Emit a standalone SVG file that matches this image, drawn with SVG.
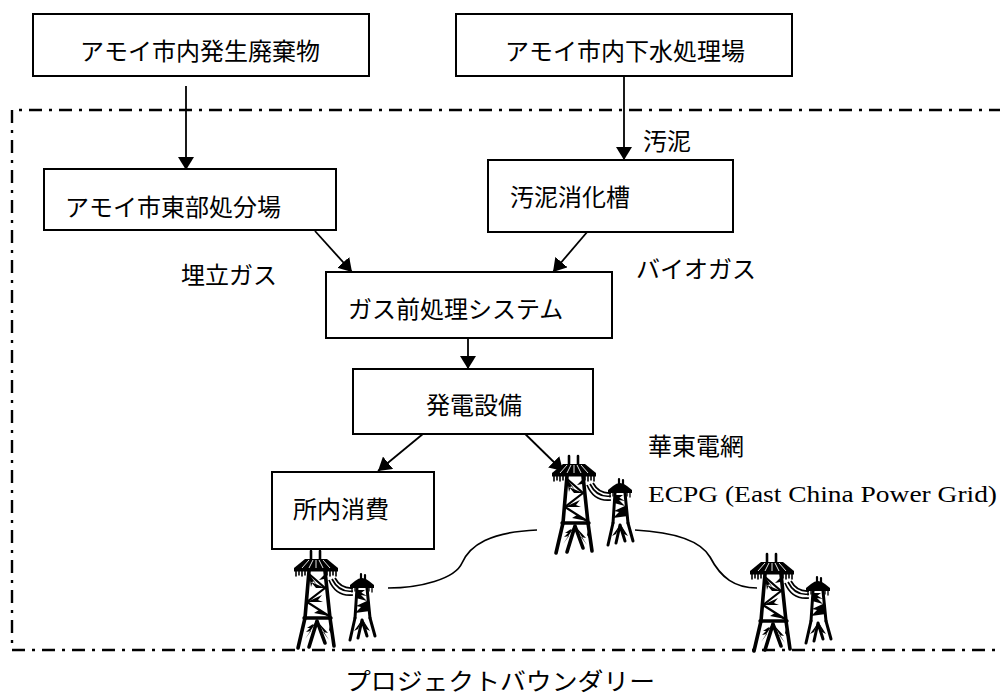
<svg xmlns="http://www.w3.org/2000/svg" width="1000" height="698" viewBox="0 0 1000 698">
  <style>
    .box { fill: #fff; stroke: #000; stroke-width: 2; }
    .jp { font-family: "Noto Sans CJK JP", "Noto Sans CJK SC", sans-serif; font-size: 24px; fill: #000; }
    .en { font-family: "Liberation Serif", "DejaVu Serif", serif; font-size: 24px; fill: #000; }
    .edge { fill: none; stroke: #000; stroke-width: 1.8; }
    .wire { fill: none; stroke: #000; stroke-width: 1.7; }
    .boundary { fill: none; stroke: #000; stroke-width: 2.4; stroke-dasharray: 13 7 3 7; }
    .t-stroke { fill: none; stroke: #000; stroke-linecap: round; }
  </style>
  <defs>
    <marker id="ah" viewBox="0 0 13 16" refX="13" refY="8" markerWidth="13" markerHeight="16" markerUnits="userSpaceOnUse" orient="auto">
      <path d="M0,0 L13,8 L0,16 Z" fill="#000"/>
    </marker>
    <!-- transmission tower pair, origin = top-left of the large cross-arm -->
    <g id="tower">
      <!-- large tower: finials -->
      <path class="t-stroke" d="M16,-9 V2 M25,-9 V2" stroke-width="2.6"/>
      <!-- cross-arm roof -->
      <path d="M10,-1 L32,-1 L43,8 L-1,8 Z" fill="#000"/>
      <path d="M14,0 L7,8 M18,0 L14,8 M21,0 L21,8 M24,0 L28,8 M28,0 L35,8" stroke="#fff" stroke-width="0.9"/>
      <rect x="-1" y="8" width="44" height="3.5" fill="#000"/>
      <!-- fringe -->
      <path class="t-stroke" stroke-width="1.6" d="M1,11 V16 M4,11 V15 M7,11 V16 M10,11 V15 M32,11 V15 M35,11 V16 M38,11 V15 M41,11 V16"/>
      <!-- upper body -->
      <path class="t-stroke" stroke-width="3.6" d="M14,11 L10,58 M30,11 L35,58"/>
      <path class="t-stroke" stroke-width="2.2" d="M14,14 L30,28 L12,42 L34,56"/>
      <path fill="#000" d="M30,28 L16,22 L21,28 L15,28 Z M12,42 L27,35 L23,40 L28,42 Z M34,56 L19,53 L24,50 L18,46 Z M14,14 L22,25 L18,21 L16,27 Z M30,14 L24,20 L29,19 Z"/>
      <!-- mid band -->
      <path class="t-stroke" stroke-width="3.4" d="M9,58 H36"/>
      <!-- lower legs -->
      <path class="t-stroke" stroke-width="3.6" d="M10,58 L3,88 M35,58 L39,86 M22,61 L14,87 M22,61 L30,83"/>
      <path fill="#000" d="M22,61 L11,72 L16,71 L10,79 Z M22,61 L33,73 L28,72 L34,80 Z M9,62 L4,79 L8,71 Z M36,62 L39,78 L34,70 Z M18,64 L12,68 L17,68 Z"/>
      <!-- wires -->
      <path class="wire" d="M34,20 Q41,37 58,35 M37,19 Q44,33 58,31 M40,18 Q46,29 58,28"/>
      <!-- small tower -->
      <path class="t-stroke" stroke-width="2.2" d="M66,14 V20 M70,15 V20"/>
      <path d="M60,21 Q67,15 74,21 L79,25 L55,25 Z" fill="#000"/>
      <rect x="55" y="25" width="24" height="3" fill="#000"/>
      <path class="t-stroke" stroke-width="1.3" d="M57,28 V32 M60,28 V31 M74,28 V31 M77,28 V32"/>
      <path class="t-stroke" stroke-width="3" d="M62,28 L60,58 M72,28 L75,58"/>
      <path fill="#000" d="M62,30 L72,36 L66,35 L72,41 L61,38 Z M74,40 L61,46 L66,47 L60,53 L75,51 Z M62,30 L70,30 L66,33 Z"/>
      <path class="t-stroke" stroke-width="3" d="M60,58 L55,80 M75,58 L80,76 M67,60 L63,78 M67,60 L72,76"/>
      <path fill="#000" d="M67,60 L59,71 L63,69 Z M68,60 L75,71 L71,69 Z"/>
    </g>
  </defs>

  <rect width="1000" height="698" fill="#fff"/>

  <!-- project boundary (dash-dot) -->
  <path class="boundary" d="M1002,110 L12,110 L12,650 L1002,650"/>

  <!-- connectors -->
  <g id="connectors">
    <path class="edge" d="M186,86 L186,170" marker-end="url(#ah)"/>
    <path class="edge" d="M624,73 L624,160" marker-end="url(#ah)"/>
    <path class="edge" d="M315,231 L352,272" marker-end="url(#ah)"/>
    <path class="edge" d="M588,231 L553,272" marker-end="url(#ah)"/>
    <path class="edge" d="M468,317 L468,369" marker-end="url(#ah)"/>
    <path class="edge" d="M435,424 L378,471" marker-end="url(#ah)"/>
    <path class="edge" d="M515,424 L563,471" marker-end="url(#ah)"/>
    <!-- power lines between towers -->
    <path class="wire" d="M388,588 C420,588 455,579 462,563 C470,545 490,532 537,530"/>
    <path class="wire" d="M635,530 C672,532 700,540 710,557 C721,578 735,588 757,588"/>
  </g>

  <g id="n-waste">
    <rect class="box" x="33" y="14" width="336" height="62"/>
    <text class="jp" x="200" y="60" text-anchor="middle">アモイ市内発生廃棄物</text>
  </g>
  <g id="n-sewage">
    <rect class="box" x="456" y="14" width="336" height="62"/>
    <text class="jp" x="625" y="60" text-anchor="middle">アモイ市内下水処理場</text>
  </g>
  <text class="jp" x="643" y="150">汚泥</text>
  <g id="n-landfill">
    <rect class="box" x="44" y="169" width="292" height="61"/>
    <text class="jp" x="65" y="216">アモイ市東部処分場</text>
  </g>
  <g id="n-digester">
    <rect class="box" x="488" y="160" width="245" height="72"/>
    <text class="jp" x="510" y="206">汚泥消化槽</text>
  </g>
  <text class="jp" x="181" y="284">埋立ガス</text>
  <text class="jp" x="636" y="278">バイオガス</text>
  <g id="n-pretreat">
    <rect class="box" x="326" y="272" width="286" height="66"/>
    <text class="jp" x="348" y="318">ガス前処理システム</text>
  </g>
  <g id="n-power">
    <rect class="box" x="353" y="369" width="240" height="65"/>
    <text class="jp" x="426" y="414">発電設備</text>
  </g>
  <g id="n-onsite">
    <rect class="box" x="272" y="472" width="162" height="77"/>
    <text class="jp" x="293" y="518">所内消費</text>
  </g>

  <g id="n-grid">
    <use href="#tower" transform="translate(553,465)"/>
    <use href="#tower" transform="translate(295,560)"/>
    <use href="#tower" transform="translate(751,563)"/>
    <text class="jp" x="648" y="455">華東電網</text>
    <text class="en" x="648" y="502" textLength="349" lengthAdjust="spacingAndGlyphs">ECPG (East China Power Grid)</text>
  </g>

  <text class="jp" x="500" y="690" font-size="25" text-anchor="middle" textLength="310" lengthAdjust="spacingAndGlyphs">プロジェクトバウンダリー</text>
</svg>
